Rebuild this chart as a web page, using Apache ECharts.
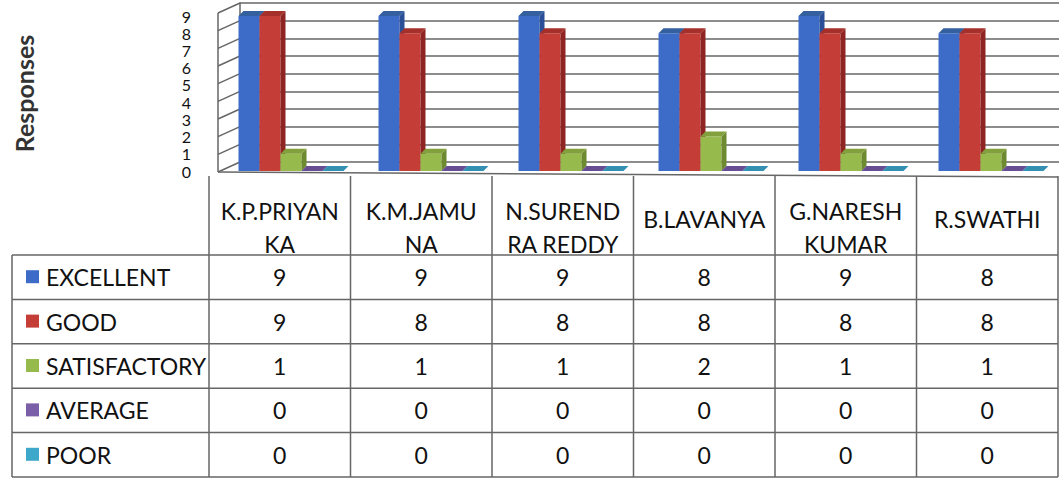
<!DOCTYPE html>
<html lang="en">
<head>
<meta charset="UTF-8">
<title>Responses by student</title>
<script src="https://cdn.jsdelivr.net/npm/echarts@6/dist/echarts.min.js"></script>
<style>html,body{margin:0;padding:0;background:#fff}</style>
</head>
<body>
<div id="chart" style="width:1063px;height:482px;"></div>
<script>
// data
var students = ['K.P.PRIYANKA', 'K.M.JAMUNA', 'N.SURENDRA REDDY', 'B.LAVANYA', 'G.NARESH KUMAR', 'R.SWATHI'];
var headerLabels = ['K.P.PRIYAN\nKA', 'K.M.JAMU\nNA', 'N.SUREND\nRA REDDY', 'B.LAVANYA', 'G.NARESH\nKUMAR', 'R.SWATHI'];
var ratings = ['EXCELLENT', 'GOOD', 'SATISFACTORY', 'AVERAGE', 'POOR'];
var excellent = [9, 9, 9, 8, 9, 8];
var good = [9, 8, 8, 8, 8, 8];
var satisfactory = [1, 1, 1, 2, 1, 1];
var average = [0, 0, 0, 0, 0, 0];
var poor = [0, 0, 0, 0, 0, 0];

var seriesValues = [excellent, good, satisfactory, average, poor];
var frontColors = ['#3d6cc8', '#c43d37', '#97ba4c', '#7b5ea8', '#3ea8cb'];
var sideColors = ['#2a4f96', '#8e2522', '#6d8a30', '#56407d', '#2a7c98'];
var topColors = ['#35609f', '#a5302b', '#82a13c', '#674d92', '#3390b0'];

var FONT = 'Lato';
var LINE = '#666';

var chart = echarts.init(document.getElementById('chart'), null, { renderer: 'svg' });

// fake 3D column: front face, right side and top, all from the axis scale
function barItem(si) {
  return function (params, api) {
    var cat = api.value(0), val = api.value(1);
    var top = api.coord([cat, val]);
    var base = api.coord([cat, 0]);
    var band = api.size([1, 0])[0];
    var w = band * 0.15, d = 5;
    var x0 = top[0] - band * 0.375 - 1 + si * w;
    var x1 = x0 + w, y1 = top[1], yb = base[1];
    return {
      type: 'group',
      children: [
        { type: 'rect', shape: { x: x0, y: y1, width: w, height: yb - y1 }, style: { fill: frontColors[si] } },
        { type: 'polygon', shape: { points: [[x1, y1], [x1 + d, y1 - d], [x1 + d, yb - d], [x1, yb]] }, style: { fill: sideColors[si] } },
        { type: 'polygon', shape: { points: [[x0, y1], [x0 + d, y1 - d], [x1 + d, y1 - d], [x1, y1]] }, style: { fill: topColors[si] } }
      ]
    };
  };
}

var series = seriesValues.map(function (vals, si) {
  return {
    name: ratings[si],
    type: 'custom',
    xAxisIndex: 1,
    yAxisIndex: 1,
    renderItem: barItem(si),
    encode: { x: 0, y: 1 },
    data: vals.map(function (v, i) { return [i, v]; })
  };
});

var option = {
  animation: false,
  backgroundColor: '#fff',
  grid: [
    { left: 240, right: 4, top: 3, height: 159 },   // back wall
    { left: 222, width: 840, top: 16, height: 155 } // bars
  ],
  xAxis: [
    { type: 'category', gridIndex: 0, data: students, show: false },
    { type: 'category', gridIndex: 1, data: students, show: false }
  ],
  yAxis: [
    {
      type: 'value', gridIndex: 0, min: 0, max: 9, interval: 1,
      axisLabel: { show: false }, axisTick: { show: false },
      axisLine: { show: true, lineStyle: { color: LINE, width: 1.5 } },
      splitLine: { show: true, lineStyle: { color: LINE, width: 1.5 } }
    },
    {
      type: 'value', gridIndex: 1, min: 0, max: 9, interval: 1,
      axisLine: { show: false }, axisTick: { show: false }, splitLine: { show: false },
      axisLabel: {
        fontFamily: FONT, fontSize: 16, color: '#111', margin: 31,
        showMinLabel: true, showMaxLabel: true, hideOverlap: false
      },
      name: 'Responses', nameLocation: 'middle', nameRotate: 90, nameGap: 186,
      nameTextStyle: { fontFamily: FONT, fontWeight: 'bold', fontSize: 25, color: '#333' }
    }
  ],
  series: series
};
chart.setOption(option);

// side wall, floor edge and data table
var g = [];
function line(x1, y1, x2, y2) {
  g.push({ type: 'line', shape: { x1: x1, y1: y1, x2: x2, y2: y2 }, style: { stroke: LINE, lineWidth: 1.5 }, silent: true });
}
function text(str, x, y, align, opt) {
  g.push({
    type: 'text', x: x, y: y, silent: true,
    style: Object.assign({ text: str, fontFamily: FONT, fontSize: 23, fill: '#111', align: align, verticalAlign: 'middle', lineHeight: 33 }, opt || {})
  });
}

for (var v = 0; v <= 9; v++) {
  var y = chart.convertToPixel({ yAxisIndex: 0 }, v);
  line(240, y, 218, y + 10);
}
var yTopWall = chart.convertToPixel({ yAxisIndex: 0 }, 9);
var yBaseWall = chart.convertToPixel({ yAxisIndex: 0 }, 0);
line(218, yTopWall + 10, 218, yBaseWall + 10);
line(218, yBaseWall + 10, 1058, yBaseWall + 15);

var tableLeft = 209, colW = 141.5, headTop = 176, headBottom = 255, rowH = 44.4, keyLeft = 12;
var tableRight = tableLeft + colW * students.length;
var tableBottom = headBottom + rowH * ratings.length;

for (var c = 0; c <= students.length; c++) {
  var cx = tableLeft + c * colW;
  line(cx, headTop, cx, tableBottom);
}
line(keyLeft, headBottom, keyLeft, tableBottom);
for (var r = 0; r <= ratings.length; r++) {
  var ry = headBottom + r * rowH;
  line(keyLeft, ry, tableRight, ry);
}

headerLabels.forEach(function (lbl, i) {
  var twoLines = lbl.indexOf('\n') >= 0;
  text(lbl, tableLeft + (i + 0.5) * colW, twoLines ? 227 : 219, 'center');
});

ratings.forEach(function (name, r) {
  var cy = headBottom + (r + 0.5) * rowH;
  g.push({ type: 'rect', silent: true, shape: { x: keyLeft + 14, y: cy - 7, width: 13, height: 13 }, style: { fill: frontColors[r] } });
  text(name, keyLeft + 34, cy, 'left');
  seriesValues[r].forEach(function (val, i) {
    text(String(val), tableLeft + (i + 0.5) * colW, cy, 'center');
  });
});

chart.setOption({ graphic: { elements: g } });
</script>
</body>
</html>
